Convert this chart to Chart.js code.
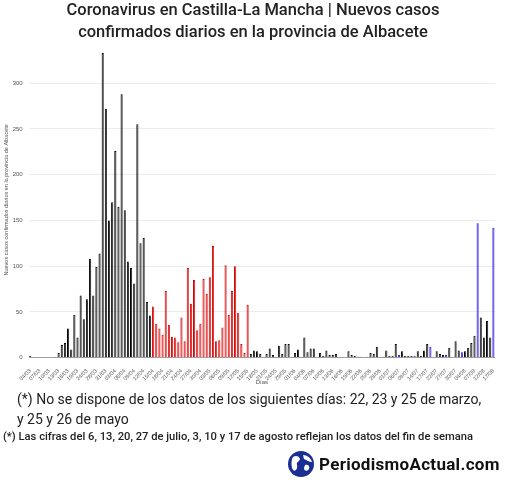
<!DOCTYPE html>
<html>
<head>
  <title>Coronavirus en Castilla-La Mancha - Albacete</title>
  <meta charset="UTF-8">
  <script src="https://cdn.jsdelivr.net/npm/chart.js"></script>
  <style>
    body { margin: 0; background: #fff; font-family: Roboto, "Noto Sans", sans-serif; }
    #wrap { position: relative; width: 511px; height: 480px; }
    .txt { position: absolute; white-space: nowrap; color: #222; }
  </style>
</head>
<body>
<div id="wrap">
  <canvas id="grafico" width="511" height="480"></canvas>
  <div class="txt" style="left:0;width:506px;text-align:center;top:-1px;font-size:16.5px;line-height:22px;font-weight:500;">Coronavirus en Castilla-La Mancha | Nuevos casos<br>confirmados diarios en la provincia de Albacete</div>
  <div class="txt" style="left:17px;top:389px;font-size:14px;line-height:20px;">(*) No se dispone de los datos de los siguientes días: 22, 23 y 25 de marzo,<br>y 25 y 26 de mayo</div>
  <div class="txt" style="left:3px;top:430px;font-size:11.2px;line-height:13px;font-weight:500;">(*) Las cifras del 6, 13, 20, 27 de julio, 3, 10 y 17 de agosto reflejan los datos del fin de semana</div>
  <svg style="position:absolute;left:287px;top:450px" width="28" height="28" viewBox="0 0 28 28">
    <circle cx="14" cy="14" r="13" fill="#1b2f93"/>
    <path d="M6 7 C9 5 12 6 13 9 C12 12 9 12 10 15 C11 19 8 22 6 20 C4 17 4 10 6 7 Z" fill="#fff"/>
    <path d="M16 5 C20 5 24 8 25 12 C22 12 20 10 17 9 Z" fill="#fff"/>
    <path d="M18 15 C21 14 23 16 22 19 C20 22 17 21 17 18 Z" fill="#fff"/>
  </svg>
  <div class="txt" style="left:319px;top:455px;font-size:17px;line-height:18px;letter-spacing:0.3px;font-weight:bold;color:#111;">PeriodismoActual.com</div>
</div>

<script>
  // fechas (sin los días sin datos y, desde julio, sin fines de semana)
  const fechasMarzo = ['04/03','05/03','06/03','07/03','08/03','09/03','10/03','11/03','12/03','13/03','14/03','15/03','16/03','17/03','18/03','19/03','20/03','21/03','24/03','26/03','27/03','28/03','29/03','30/03','31/03'];
  const fechasAbril = ['01/04','02/04','03/04','04/04','05/04','06/04','07/04','08/04','09/04','10/04','11/04','12/04','13/04','14/04','15/04','16/04','17/04','18/04','19/04','20/04','21/04','22/04','23/04','24/04','25/04','26/04','27/04','28/04','29/04','30/04'];
  const fechasMayo = ['01/05','02/05','03/05','04/05','05/05','06/05','07/05','08/05','09/05','10/05','11/05','12/05','13/05','14/05','15/05','16/05','17/05','18/05','19/05','20/05','21/05','22/05','23/05','24/05','27/05','28/05','29/05','30/05','31/05'];
  const fechasJunio = ['01/06','02/06','03/06','04/06','05/06','06/06','07/06','08/06','09/06','10/06','11/06','12/06','13/06','14/06','15/06','16/06','17/06','18/06','19/06','20/06','21/06','22/06','23/06','24/06','25/06','26/06','27/06','28/06','29/06','30/06'];
  const fechasJulio = ['01/07','02/07','03/07','06/07','07/07','08/07','09/07','10/07','13/07','14/07','15/07','16/07','17/07','20/07','21/07','22/07','23/07','24/07','27/07','28/07','29/07','30/07','31/07'];
  const fechasAgosto = ['03/08','04/08','05/08','06/08','07/08','10/08','11/08','12/08','13/08','14/08','17/08'];

  // nuevos casos confirmados
  const casosMarzo = [2,0,0,0,0,0,0,0,1,5,14,16,32,9,47,22,68,42,64,108,68,99,114,333,272];
  const casosAbril = [150,170,226,165,288,161,105,98,81,255,125,131,61,46,56,37,32,25,73,36,23,22,17,44,18,98,59,85,30,37];
  const casosMayo = [86,70,88,122,18,19,33,101,47,73,100,49,15,5,58,4,8,7,4,1,4,10,3,1,13,4,15,15,1];
  const casosJunio = [5,9,1,22,6,10,10,0,5,2,8,3,3,4,0,0,0,7,3,2,1,1,0,1,5,4,12,0,1,8];
  const casosJulio = [2,2,15,3,7,2,2,2,2,7,2,8,15,12,0,7,4,3,3,11,0,18,8];
  const casosAgosto = [6,7,11,16,24,147,44,22,40,22,142];

  // tramo en rojo y días que recogen el fin de semana (azul)
  const tramoRojo = ['15/04', '15/05'];
  const finesDeSemana = ['06/07','13/07','20/07','27/07','03/08','10/08','17/08'];

  const fechas = [].concat(fechasMarzo, fechasAbril, fechasMayo, fechasJunio, fechasJulio, fechasAgosto);
  const casos = [].concat(casosMarzo, casosAbril, casosMayo, casosJunio, casosJulio, casosAgosto);

  const r0 = fechas.indexOf(tramoRojo[0]), r1 = fechas.indexOf(tramoRojo[1]);
  const tipo = fechas.map((f, i) => finesDeSemana.includes(f) ? 'azul' : (i >= r0 && i <= r1 ? 'rojo' : 'negro'));
  const relleno = { negro: '#3c3c3c', rojo: '#e43a3a', azul: '#5545ee' };
  const borde = { negro: '#000000', rojo: '#d40000', azul: '#2f1ed8' };

  new Chart(document.getElementById('grafico'), {
    type: 'bar',
    data: {
      labels: fechas,
      datasets: [{
        data: casos,
        backgroundColor: tipo.map(t => relleno[t]),
        borderColor: tipo.map(t => borde[t]),
        borderWidth: { left: 1, top: 1, right: 0, bottom: 0 },
        borderSkipped: false,
        barPercentage: 0.7,
        categoryPercentage: 1
      }]
    },
    options: {
      responsive: false,
      animation: false,
      layout: { padding: { top: 42, right: 16, bottom: 92, left: 0 } },
      plugins: { legend: { display: false }, tooltip: { enabled: false } },
      scales: {
        x: {
          offset: true,
          grid: { display: false },
          border: { display: false },
          ticks: {
            autoSkip: false, maxRotation: 45, minRotation: 45, padding: 2,
            font: { size: 5.5, family: 'Liberation Sans' }, color: '#555',
            callback: (v, i) => i % 3 === 0 ? fechas[i] : ''
          },
          title: { display: true, text: 'Días', font: { size: 6, family: 'Liberation Sans' }, color: '#555', padding: { top: 0, bottom: 2 } },
          afterFit: s => { s.height = 30.3; }
        },
        y: {
          min: 0, max: 345,
          ticks: { stepSize: 50, padding: 6, font: { size: 6, family: 'Liberation Sans' }, color: '#555' },
          afterBuildTicks: s => { s.ticks = s.ticks.filter(t => t.value <= 300); },
          grid: { color: c => c.tick.value === 0 ? '#a0a0a0' : '#ececec', drawTicks: false },
          border: { display: false },
          title: { display: true, text: 'Nuevos casos confirmados diarios en la provincia de Albacete', font: { size: 5.5, family: 'Liberation Sans' }, color: '#555', padding: { top: 3, bottom: 0 } },
          afterFit: s => { s.width = 28.7; }
        }
      }
    }
  });
</script>
</body>
</html>
